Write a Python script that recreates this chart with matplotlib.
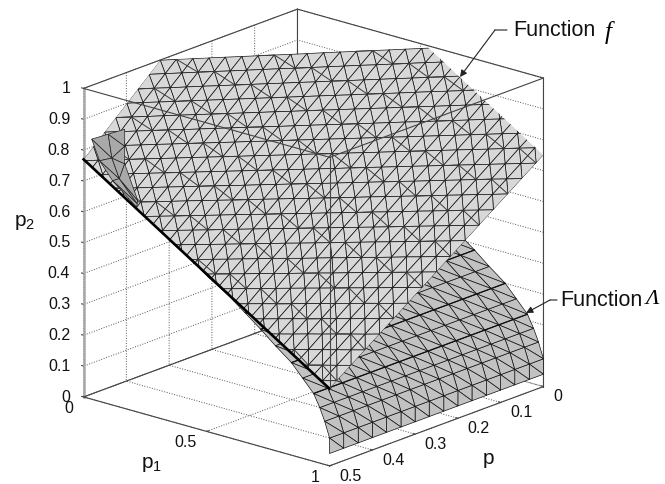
import numpy as np
import matplotlib
matplotlib.use("Agg")
import matplotlib.pyplot as plt
from matplotlib.path import Path as MplPath
from mpl_toolkits.mplot3d import proj3d

plt.rcParams["font.family"] = ["Liberation Sans", "DejaVu Sans"]
plt.rcParams["mathtext.default"] = "regular"
plt.rcParams["grid.linestyle"] = ":"
plt.rcParams["grid.color"] = "#555555"
plt.rcParams["grid.linewidth"] = 0.7

W, H = 665, 484

p1_ticks = [0, 0.5, 1]
p_ticks = [0, 0.1, 0.2, 0.3, 0.4, 0.5]
p2_ticks = [0, 0.1, 0.2, 0.3, 0.4, 0.5, 0.6, 0.7, 0.8, 0.9, 1]
p2_ticklabels = ["0", "0.1", "0.2", "0.3", "0.4", "0.5", "0.6", "0.7", "0.8", "0.9", "1"]
p_ticklabels = ["0", "0.1", "0.2", "0.3", "0.4", "0.5"]
p1_ticklabels = ["0", "0.5", "1"]

# function f: sheet given as p (in thousandths) on a p1 / p2 mesh
f_p1_levels = [0, .033, .067, .1, .133, .167, .2, .233, .267, .3, .333, .367, .4, .433, .467, .5,
               .533, .567, .6, .633, .667, .7, .733, .767, .8, .833, .867, .9, .933, .967, 1]
f_p2_levels = [1, .967, .933, .9, .867, .833, .8, .767, .733, .7, .667, .633,
               .6, .567, .533, .5, .467, .433, .4, .367, .333, .3, .267, .233]
f_p_milli = [
    [321,302,283,264,245,226,207,188,169,150,130,111,92,73,54,35,16,-3,-22,-41,-61,-80,-99,-118,-137,-156,-175,-194,-213,-232,-250],
    [347,328,309,290,271,253,234,215,196,178,159,140,121,102,84,65,46,27,9,-10,-29,-48,-67,-85,-104,-123,-142,-160,-179,-198,-217],
    [373,354,336,317,298,280,261,243,224,206,187,169,150,132,113,95,76,58,39,21,2,-16,-35,-54,-72,-91,-109,-128,-146,-165,-183],
    [399,380,362,344,325,307,289,271,252,234,216,197,179,161,143,124,106,88,69,51,33,15,-4,-22,-40,-59,-77,-95,-113,-132,-150],
    [425,407,389,370,352,334,316,298,280,262,244,226,208,190,172,154,136,118,100,82,64,46,28,10,-8,-26,-44,-62,-80,-99,-117],
    [451,433,415,397,379,362,344,326,308,290,273,255,237,219,201,184,166,148,130,112,95,77,59,41,23,6,-12,-30,-48,-66,-83],
    [477,459,441,424,406,389,371,354,336,319,301,284,266,248,231,213,196,178,161,143,126,108,91,73,55,38,20,3,-15,-32,-50],
    [503,485,468,451,433,416,399,381,364,347,330,312,295,278,260,243,226,208,191,174,156,139,122,104,87,70,53,35,18,1,-17],
    [529,512,494,477,460,443,426,409,392,375,358,341,324,307,290,273,256,239,221,204,187,170,153,136,119,102,85,68,51,34,17],
    [555,538,521,504,487,471,454,437,420,403,386,370,353,336,319,302,285,269,252,235,218,201,184,168,151,134,117,100,83,67,50],
    [581,564,547,531,514,498,481,465,448,431,415,398,382,365,348,332,315,299,282,266,249,232,216,199,183,166,149,133,116,100,83],
    [607,590,574,558,541,525,509,492,476,460,443,427,411,394,378,362,345,329,313,296,280,264,247,231,215,198,182,166,149,133,117],
    [633,617,600,584,568,552,536,520,504,488,472,456,440,423,407,391,375,359,343,327,311,295,279,263,247,230,214,198,182,166,150],
    [659,643,627,611,595,579,564,548,532,516,500,484,469,453,437,421,405,389,373,358,342,326,310,294,278,263,247,231,215,199,183],
    [685,669,653,638,622,607,591,575,560,544,529,513,497,482,466,451,435,419,404,388,373,357,341,326,310,295,279,263,248,232,217],
    [711,695,680,665,649,634,619,603,588,572,557,542,526,511,496,480,465,450,434,419,404,388,373,358,342,327,311,296,281,265,250],
    [737,722,706,691,676,661,646,631,616,601,586,570,555,540,525,510,495,480,465,450,434,419,404,389,374,359,344,329,314,299,283],
    [763,748,733,718,703,688,673,659,644,629,614,599,584,569,555,540,525,510,495,480,465,451,436,421,406,391,376,361,347,332,317],
    [789,774,759,745,730,716,701,686,672,657,642,628,613,599,584,569,555,540,525,511,496,482,467,452,438,423,408,394,379,365,350],
    [815,800,786,771,757,743,728,714,700,685,671,657,642,628,613,599,585,570,556,541,527,513,498,484,470,455,441,426,412,398,383],
    [841,826,812,798,784,770,756,742,728,713,699,685,671,657,643,629,615,600,586,572,558,544,530,516,502,487,473,459,445,431,417],
    [867,853,839,825,811,797,783,769,755,742,728,714,700,686,672,658,644,631,617,603,589,575,561,547,533,519,506,492,478,464,450],
    [893,879,865,852,838,824,811,797,783,770,756,743,729,715,702,688,674,661,647,633,620,606,593,579,565,552,538,524,511,497,483],
    [919,905,892,878,865,852,838,825,811,798,785,771,758,745,731,718,704,691,678,664,651,637,624,611,597,584,570,557,544,530,517],
]
# outline of the visible sheet
f_edge_p1 = [0, 0, .52, 1, 1]
f_edge_p = [.5, .32, 0, 0, .5]
f_edge_p2 = [.77, 1, 1, .75, .25]

# function Lambda: profile over p
lam_p_levels = [0, .033, .067, .1, .133, .167, .2, .233, .267, .3, .333, .367, .4, .433, .467, .5]
lam_p2_levels = [.04, .09, .14, .18, .22, .26, .30, .34, .38, .42, .46, .50, .54, .58, .62, .66, .70, .74, .77]
lam_p1_levels = [1, 1, .98, .96, .935, .89, .845, .78, .72, .655, .59, .51, .44, .36, .285, .21, .135, .06, 0]
lam_dark_rows = [4, 6, 8]

# small piece of Lambda that comes through f at top left
patch_p1 = [[.033, .065, .118, .215], [.10, .115, .145, .218], [.167, .167, .167, .22]]
patch_p2 = [[.843, .78, .727, .663], [.874, .80, .74, .675], [.905, .85, .793, .686]]


def grid_triangles(nrow, ncol):
    tris = []
    for r in range(nrow - 1):
        for c in range(ncol - 1):
            a, b = r * ncol + c, r * ncol + c + 1
            d, e = (r + 1) * ncol + c, (r + 1) * ncol + c + 1
            tris += [[a, b, e], [a, e, d]]
    return tris


fig = plt.figure(figsize=(W / 100, H / 100), dpi=100)
side = 548
ax = fig.add_axes([32.1 / W, -34.9 / H, side / W, side / H], projection="3d",
                  proj_type="ortho", computed_zorder=False)
ax.view_init(elev=18.8, azim=-49)
ax.set_box_aspect((1, 1, 1))
ax.patch.set_alpha(0)

# Lambda first, f goes over it
lam_x, lam_y = np.meshgrid(lam_p1_levels, lam_p_levels, indexing="ij")
lam_z = np.repeat(np.array(lam_p2_levels)[:, None], len(lam_p_levels), axis=1)
ax.plot_trisurf(lam_x.ravel(), lam_y.ravel(), lam_z.ravel(),
                triangles=grid_triangles(*lam_x.shape), color="#c2c2c2",
                edgecolor="#111111", linewidth=0.5, shade=False, zorder=2)
for r in lam_dark_rows:
    ax.plot(lam_x[r], lam_y[r], lam_z[r], color="#111111", lw=0.9, zorder=2.5)

f_x, f_z = np.meshgrid(f_p1_levels, f_p2_levels)
f_y = np.array(f_p_milli) / 1000
f_surf = ax.plot_trisurf(f_x.ravel(), f_y.ravel(), f_z.ravel(),
                         triangles=grid_triangles(*f_x.shape), color="#d8d8d8",
                         edgecolor="#111111", linewidth=0.5, shade=False, zorder=3)

patch_x = np.array(patch_p1)
patch_z = np.array(patch_p2)
ax.plot_trisurf(patch_x.ravel(), np.full(patch_x.size, 0.5), patch_z.ravel(),
                triangles=grid_triangles(*patch_x.shape), color="#a9a9a9",
                edgecolor="#222222", linewidth=0.5, shade=False, zorder=4)

ax.set_xlim(0, 1, view_margin=0)
ax.set_ylim(0.5, 0, view_margin=0)
ax.set_zlim(0, 1, view_margin=0)

# clip f to its outline, in projected coordinates
ex, ey, _ = proj3d.proj_transform(np.array(f_edge_p1), np.array(f_edge_p),
                                  np.array(f_edge_p2), ax.get_proj())
f_clip = MplPath(np.column_stack([ex, ey]).tolist() + [[ex[0], ey[0]]])
f_surf.set_clip_path(f_clip, ax.transData)

# wavy darker lines that cross the f mesh, walking along the table nodes
nrow, ncol = f_x.shape
for n0 in range(-26, 24, 2):
    rows, cols = [], []
    r, c = n0, 0
    while c < ncol:
        rows.append(r)
        cols.append(c)
        if len(rows) % 2:
            c += 1
        else:
            r += 1
            c += 2
    keep = [(r, c) for r, c in zip(rows, cols) if 0 <= r < nrow]
    if len(keep) < 2:
        continue
    line, = ax.plot([f_x[r, c] for r, c in keep], [f_y[r, c] for r, c in keep],
                    [f_z[r, c] for r, c in keep], color="#3a3a3a", lw=0.7, zorder=3.5)
    line.set_clip_path(f_clip, ax.transData)

# thick lower edge of f
ax.plot([f_edge_p1[0], f_edge_p1[4]], [0.5, 0.5], [f_edge_p2[0], f_edge_p2[4]],
        color="k", lw=1.9, zorder=5)

# box
box = "#444444"
ax.plot([0, 0], [.5, .5], [0, 1], color="#a8a8a8", lw=1.8, zorder=1)
ax.plot([1, 1], [0, 0], [0, 1], color=box, lw=0.8, zorder=1)
ax.plot([0, 0], [0, 0], [0, 1], color=box, lw=0.8, zorder=1)
ax.plot([0, 0], [.5, 0], [1, 1], color=box, lw=0.8, zorder=1)
ax.plot([0, 1], [0, 0], [1, 1], color=box, lw=0.8, zorder=1)
ax.plot([0, 0], [.5, 0], [0, 0], color=box, lw=0.8, zorder=1)
ax.plot([0, 1], [.5, .5], [1, 1], color=box, lw=0.8, zorder=6)
ax.plot([1, 1], [.5, 0], [1, 1], color=box, lw=0.8, zorder=6)
ax.plot([1, 1], [.5, .5], [f_edge_p2[4], 1], color=box, lw=0.8, zorder=6)
ax.plot([0, 1], [.5, .5], [0, 0], color=box, lw=0.8, zorder=6)
ax.plot([1, 1], [.5, 0], [0, 0], color=box, lw=0.8, zorder=6)

for axis in (ax.xaxis, ax.yaxis, ax.zaxis):
    axis.pane.set_visible(False)
    axis.line.set_color((0, 0, 0, 0))
    axis._axinfo["tick"]["outward_factor"] = 0.1
    axis._axinfo["tick"]["inward_factor"] = 0.0

ax.set_xticks(p1_ticks, p1_ticklabels, fontsize=11.5)
ax.set_yticks(p_ticks, p_ticklabels, fontsize=11.5)
ax.set_zticks(p2_ticks, p2_ticklabels, fontsize=11.5)
ax.zaxis.set_ticks_position("upper")
ax.tick_params(axis="both", color="#444444", labelcolor="#111111")
ax.tick_params(axis="x", pad=2)
ax.tick_params(axis="y", pad=0)
ax.tick_params(axis="z", pad=-2)
for t in ax.get_xticklabels():
    t.set(ha="right", va="bottom")
for t in ax.get_yticklabels():
    t.set(ha="left", va="baseline")
for t in ax.get_zticklabels():
    t.set(ha="right", va="center")

# axis names sit where mplot3d cannot put them
fig.text(152 / W, 1 - 465 / H, "p$_1$", fontsize=15, ha="center", va="center", color="#111111")
fig.text(488 / W, 1 - 458 / H, "p", fontsize=15, ha="center", va="center", color="#111111")
fig.text(25 / W, 1 - 222 / H, "p$_2$", fontsize=15, ha="center", va="center", color="#111111")

# callouts
def fig_xy(x, y):
    return (x, H - y)

ax.annotate("", xy=fig_xy(460, 77), xytext=fig_xy(495, 30), xycoords="figure pixels",
            textcoords="figure pixels", annotation_clip=False,
            arrowprops=dict(arrowstyle="-|>", color="#222222", lw=0.8, shrinkA=0, shrinkB=0))
ax.annotate("", xy=fig_xy(495, 30), xytext=fig_xy(507, 30), xycoords="figure pixels",
            textcoords="figure pixels", annotation_clip=False,
            arrowprops=dict(arrowstyle="-", color="#222222", lw=0.8, shrinkA=0, shrinkB=0))
ax.annotate("", xy=fig_xy(526, 313), xytext=fig_xy(550, 300), xycoords="figure pixels",
            textcoords="figure pixels", annotation_clip=False,
            arrowprops=dict(arrowstyle="-|>", color="#222222", lw=0.8, shrinkA=0, shrinkB=0))
ax.annotate("", xy=fig_xy(550, 300), xytext=fig_xy(557, 300), xycoords="figure pixels",
            textcoords="figure pixels", annotation_clip=False,
            arrowprops=dict(arrowstyle="-", color="#222222", lw=0.8, shrinkA=0, shrinkB=0))

fig.text(513 / W, 1 - 30 / H, "Function", fontsize=15.5, va="center", ha="left", color="#111111")
fig.text(605 / W, 1 - 32 / H, "f", fontsize=18, va="center", ha="left", family="Liberation Serif", style="italic")
fig.text(560 / W, 1 - 300 / H, "Function", fontsize=15.5, va="center", ha="left", color="#111111")
fig.text(646 / W, 1 - 300 / H, "Λ", fontsize=16, va="center", ha="left", family="Liberation Serif", style="italic")

fig.savefig("out.png", dpi=100)
